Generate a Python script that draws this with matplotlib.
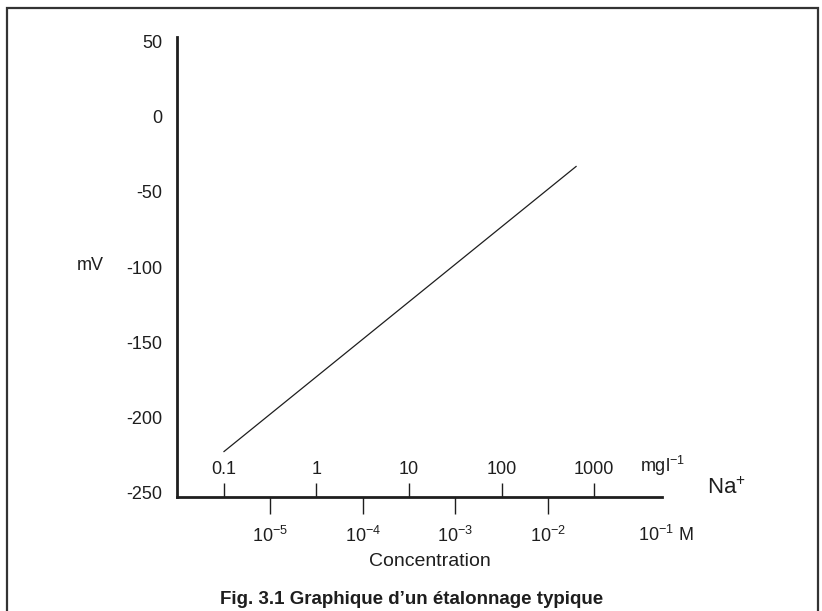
import numpy as np
import matplotlib
matplotlib.use("Agg")
import matplotlib.pyplot as plt
from matplotlib.patches import Rectangle
from matplotlib.ticker import NullLocator

plt.rcParams['font.family'] = ['Liberation Sans', 'DejaVu Sans']
plt.rcParams['mathtext.fontset'] = 'custom'
plt.rcParams['mathtext.rm'] = 'Liberation Sans'
plt.rcParams['mathtext.it'] = 'Liberation Sans:italic'
plt.rcParams['axes.unicode_minus'] = False

# calibration line (mg/l Na+, mV)
conc_mgl = [0.1, 640]
mv = [-223, -33]

# axis ticks
mgl_ticks = [0.1, 1, 10, 100, 1000]
mgl_labels = ['0.1', '1', '10', '100', '1000']
molar_ticks = [1e-5, 1e-4, 1e-3, 1e-2]
molar_labels = ['$10^{-5}$', '$10^{-4}$', '$10^{-3}$', '$10^{-2}$']
mv_ticks = [-250, -200, -150, -100, -50, 0, 50]

# offset between the two scales as drawn in the figure (decades)
K = 10 ** 4.5

W, H = 822, 611
ink = '#1e1e1e'

fig = plt.figure(figsize=(W / 100, H / 100), dpi=100)

# outer frame
fig.patches.append(Rectangle((7 / W, -0.02), (818 - 7) / W, 1 - 8 / H + 0.02,
                             transform=fig.transFigure, fill=False,
                             edgecolor='#333333', linewidth=1.6))

ax = fig.add_axes([177 / W, 1 - 497 / H, (662 - 177) / W, (497 - 37) / H])
ax.plot(conc_mgl, mv, color=ink, linewidth=0.9)

ax.set_xscale('log')
ax.set_xlim(10 ** -1.508, 10 ** 3.735)
ax.set_ylim(-253.3, 53.3)

for s in ['top', 'right']:
    ax.spines[s].set_visible(False)
for s in ['left', 'bottom']:
    ax.spines[s].set_linewidth(2)
    ax.spines[s].set_color(ink)

ax.set_yticks(mv_ticks)
ax.set_yticklabels([str(v) for v in mv_ticks])
ax.tick_params(axis='y', length=0, pad=10.5, labelsize=13, labelcolor=ink)
ax.xaxis.set_major_locator(NullLocator())
ax.xaxis.set_minor_locator(NullLocator())

# mg/l scale, ticks pointing up above the axis
sec_mg = ax.secondary_xaxis(0)
sec_mg.set_alignment('top')
sec_mg.set_xticks(mgl_ticks, mgl_labels)
sec_mg.xaxis.set_minor_locator(NullLocator())
sec_mg.tick_params(axis='x', length=10, width=1, color=ink, pad=4,
                   labelsize=13, labelcolor=ink)
for s in sec_mg.spines.values():
    s.set_visible(False)

# molar scale, ticks pointing down below the axis
sec_m = ax.secondary_xaxis(0, functions=(lambda x: x / K, lambda m: m * K))
sec_m.set_xticks(molar_ticks, molar_labels)
sec_m.xaxis.set_minor_locator(NullLocator())
sec_m.tick_params(axis='x', length=12, width=1, color=ink, pad=9,
                  labelsize=13, labelcolor=ink)
for s in sec_m.spines.values():
    s.set_visible(False)

fig.text(638 / W, 1 - 535 / H, '$10^{-1}$ M', fontsize=13, color=ink,
         ha='left', va='center')
fig.text(640 / W, 1 - 466 / H, 'mgl$^{-1}$', fontsize=13, color=ink,
         ha='left', va='center')
fig.text(707 / W, 1 - 488 / H, 'Na$^{+}$', fontsize=16, color=ink,
         ha='left', va='center')
fig.text(90 / W, 1 - 266 / H, 'mV', fontsize=13, color=ink,
         ha='center', va='center')
fig.text(430 / W, 1 - 562 / H, 'Concentration', fontsize=14, color=ink,
         ha='center', va='center')
fig.text(412 / W, 1 - 600 / H, 'Fig. 3.1 Graphique d\u2019un étalonnage typique',
         fontsize=13.5, fontweight='bold', color=ink, ha='center', va='center')

fig.savefig('out.png', dpi=100)
